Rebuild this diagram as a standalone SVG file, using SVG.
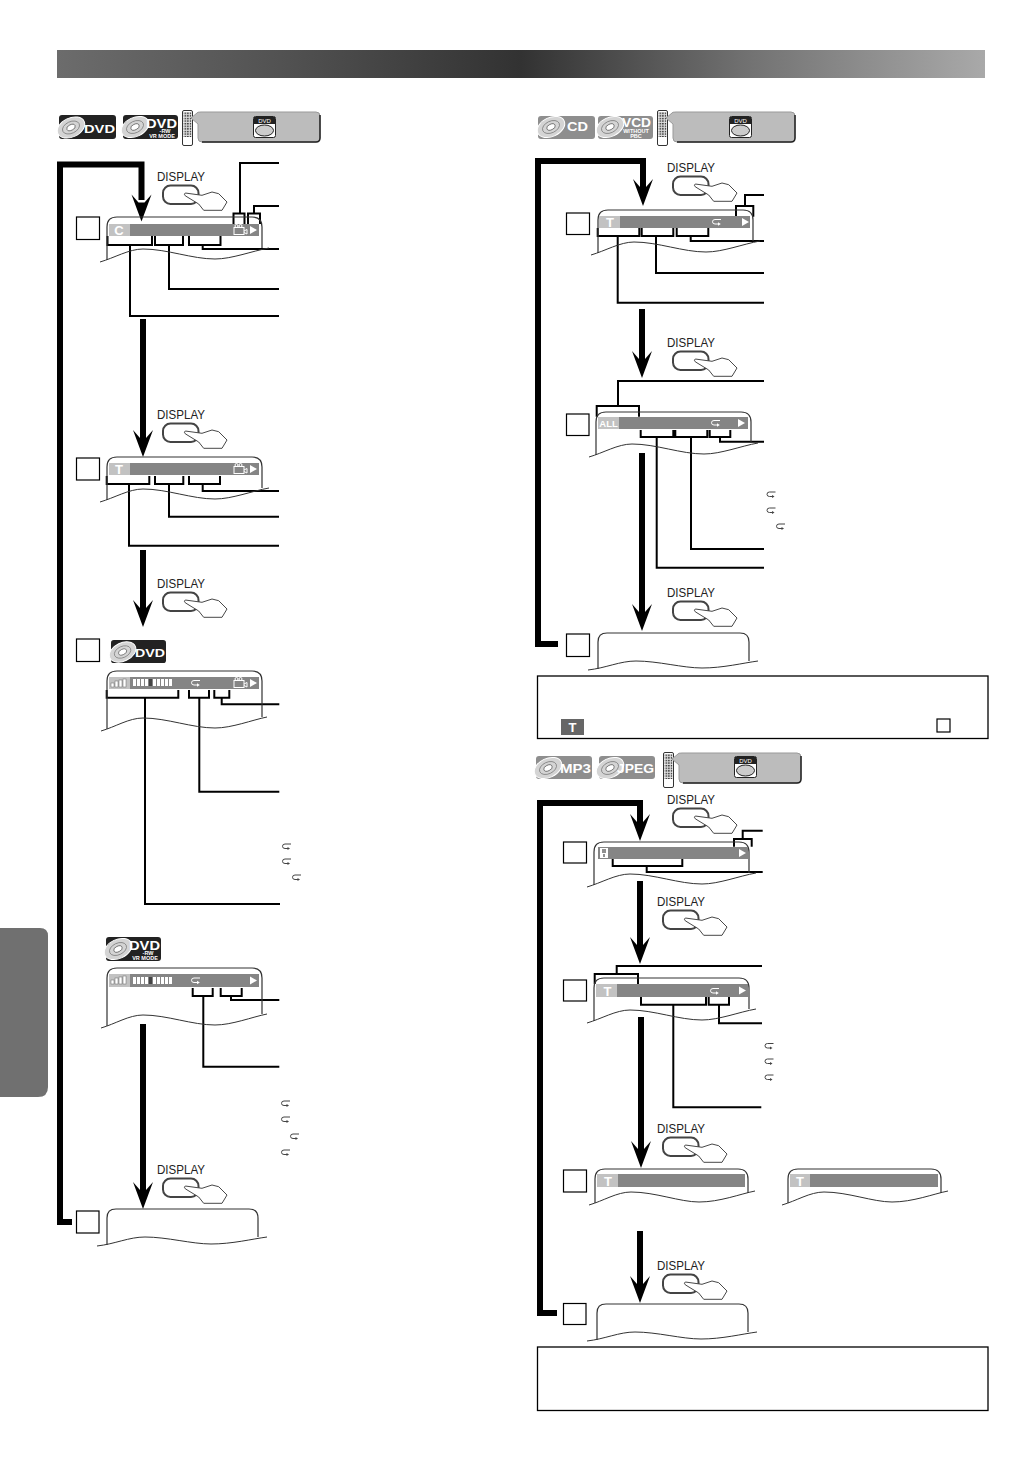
<svg xmlns="http://www.w3.org/2000/svg" xmlns:xlink="http://www.w3.org/1999/xlink" width="1032" height="1458" viewBox="0 0 1032 1458">
<style>
text{font-family:"Liberation Sans",Arial,sans-serif}
.o{fill:none;stroke:#333;stroke-width:1.2}
.b{fill:#858585}
.l{fill:#c2c2c2}
.i{font-weight:bold;fill:#fff;text-anchor:middle}
.step{fill:#fff;stroke:#000;stroke-width:1.2}
.th{fill:none;stroke:#000;stroke-width:6;stroke-miterlimit:10}
.c{fill:none;stroke:#000;stroke-width:2;stroke-linejoin:miter}
.d{fill:#222;font-size:13.5px}
.lg{font-weight:bold;fill:#fff}
.note{fill:#fff;stroke:#000;stroke-width:1.3}
</style>
<defs>
<linearGradient id="hdr" x1="0" x2="1" y1="0" y2="0"><stop offset="0" stop-color="#6c6c6c"/><stop offset=".25" stop-color="#515151"/><stop offset=".5" stop-color="#323232"/><stop offset=".75" stop-color="#737373"/><stop offset="1" stop-color="#a9a9a9"/></linearGradient>
<pattern id="keys" width="2.6" height="2.6" patternUnits="userSpaceOnUse"><rect width="2.6" height="2.6" fill="#ddd"/><rect width="1.4" height="1.4" fill="#222"/></pattern>
<path id="head" d="M-10 -27L0 0L10 -27L3 -19H-3Z" fill="#000"/>
<g id="btn"><text class="d" x="0" y="0" textLength="48" lengthAdjust="spacingAndGlyphs">DISPLAY</text><rect x="6" y="4.500" width="35.500" height="18.500" rx="7.500" fill="#fff" stroke="#444" stroke-width="2"/><path d="M28.300 12L45 14.300L55 11L61.700 12.700L70 21L65 29.300H46.700L41.700 23L28.300 14.800Q26.500 13 28.300 12Z" fill="#fff" stroke="#333" stroke-width=".9"/></g>
<g id="scrA" class="o"><path d="M0 43V10Q0 0 10 0H145Q155 0 155 10V31"/><path d="M-7 45C7 41 22 32 36 32C60 32 85 42 108 42C125 42 145 34 162 31" stroke-width="1"/></g>
<g id="scrB" class="o"><path d="M0 58V10Q0 0 10 0H145Q155 0 155 10V46"/><path d="M-6 60C8 56 22 47 36 47C60 47 85 57 108 57C125 57 145 49 160 46" stroke-width="1"/></g>
<g id="scrC" class="o"><path d="M0 36V9Q0 0 9 0H142Q151 0 151 9V28"/><path d="M-10 37C8 35 22 28 38 28C60 28 85 35 104 35C125 35 145 30 160 28" stroke-width="1"/></g>
<g id="scrD" class="o"><path d="M0 34V10Q0 0 10 0H143Q153 0 153 10V24"/><path d="M-6 36C8 32 22 23 36 23C60 23 85 33 104 33C125 33 145 25 160 22" stroke-width="1"/></g>
<path id="play" d="M0 -4L7 0L0 4Z" fill="#fff"/>
<g id="film" fill="none" stroke="#fff" stroke-width="1"><rect x="-7" y="-2.500" width="10" height="7"/><circle cx="-4.500" cy="-4" r="1.500"/><circle cx="-.5" cy="-4" r="1.500"/><path d="M3 1L6 -.5V4L3 2.500"/></g>
<g id="rep" fill="none" stroke-width="1"><path d="M4 -2.500H-2Q-4.500 -2.500 -4.500 -.2Q-4.500 2 -2 2H1.500"/><path d="M1 .3L3.800 2L1 3.700Z" fill="#fff" stroke="none"/></g>
<g id="repS" fill="none" stroke="#444" stroke-width="1"><path d="M4 -3H-2Q-4.500 -3 -4.500 -.7Q-4.500 1.500 -2 1.500H1"/><path d="M.5 0L3 1.500L.5 3Z" fill="#444" stroke="none"/></g>
<g id="sig"><rect x="-9" y="-1" width="3" height="4" fill="#fff" stroke="#666" stroke-width=".5"/><rect x="-5" y="-3" width="3" height="6" fill="#fff" stroke="#666" stroke-width=".5"/><rect x="-1" y="-4" width="3" height="7" fill="#fff" stroke="#666" stroke-width=".5"/><rect x="3" y="-5" width="3" height="8" fill="#fff" stroke="#666" stroke-width=".5"/></g>
<g id="dots" fill="#fff"><rect x="0" width="3" height="7"/><rect x="4" width="3" height="7"/><rect x="8" width="3" height="7"/><rect x="12" width="3" height="7"/><rect x="16" width="3" height="7" fill="#444"/><rect x="20" width="3" height="7"/><rect x="24" width="3" height="7"/><rect x="28" width="3" height="7"/><rect x="32" width="3" height="7"/><rect x="36" width="3" height="7"/></g>
<g id="disc"><ellipse rx="14.500" ry="9.500" transform="rotate(-25)" fill="#d4d4d4" stroke="#fff" stroke-width="1"/><ellipse rx="9" ry="5.800" transform="rotate(-25)" fill="none" stroke="#777" stroke-width=".7"/><ellipse rx="4.500" ry="2.800" transform="rotate(-25)" fill="#fff" stroke="#555" stroke-width=".7"/></g>
<g id="remote"><rect x=".5" y=".5" width="10" height="35" rx="1.500" fill="#fff" stroke="#333" stroke-width="1"/><rect x="1.500" y="2" width="8" height="25" fill="url(#keys)"/></g>
<g id="panel"><path d="M-6 6L0 1Q0 0 4 0H119Q123 0 123 4V26Q123 30 119 30H5Q1 30 1 26V12Z" fill="#bcbcbc" stroke="#999" stroke-width="1"/><path d="M123 3V26Q123 30 119 30H5" fill="none" stroke="#222" stroke-width="1.500"/></g>
<g id="dvdb"><rect x=".5" y=".5" width="22" height="21" rx="2" fill="#fff" stroke="#222" stroke-width="1"/><path d="M1 1H22V8H1Z" fill="#222"/><text x="11.500" y="6.800" font-size="6" fill="#fff" text-anchor="middle">DVD</text><ellipse cx="11.500" cy="14.500" rx="9" ry="5.500" fill="#ccc" stroke="#222" stroke-width="1"/></g>
<g id="logoDVD"><rect width="57" height="24" rx="3" fill="#222"/><use href="#disc" x="12" y="12.500"/><text class="lg" x="25" y="18" font-size="11" textLength="31" lengthAdjust="spacingAndGlyphs">DVD</text></g>
<g id="logoVR"><rect width="55" height="24" rx="3" fill="#222"/><use href="#disc" x="12" y="12"/><text class="lg" x="23" y="13" font-size="13" textLength="31" lengthAdjust="spacingAndGlyphs">DVD</text><text class="lg" x="42" y="18" font-size="5.500" text-anchor="middle">-RW</text><text class="lg" x="39" y="23" font-size="5.500" text-anchor="middle">VR MODE</text></g>
</defs>

<g id="page-header"><rect x="57" y="50" width="928" height="28" fill="url(#hdr)"/></g>
<g id="side-tab"><path d="M0 928H40Q48 928 48 936V1087Q48 1097 38 1097H0Z" fill="#707070"/></g>

<g id="source-left">
<use href="#logoDVD" x="59" y="115"/><use href="#logoVR" x="123" y="115"/><use href="#remote" x="182" y="110"/><use href="#panel" x="197" y="112"/><use href="#dvdb" x="253" y="116"/>
</g>
<g id="source-cd">
<g id="logo-cd"><rect x="538" y="116" width="57" height="23" rx="3" fill="#8e8e8e"/><use href="#disc" x="551" y="127"/><text class="lg" x="567" y="131" font-size="12" textLength="21" lengthAdjust="spacingAndGlyphs">CD</text></g>
<g id="logo-vcd"><rect x="598" y="116" width="55" height="23" rx="3" fill="#8e8e8e"/><use href="#disc" x="610" y="127"/><text class="lg" x="622" y="127" font-size="12" textLength="29" lengthAdjust="spacingAndGlyphs">VCD</text><text class="lg" x="636" y="133" font-size="5.500" text-anchor="middle">WITHOUT</text><text class="lg" x="636" y="138" font-size="5.500" text-anchor="middle">PBC</text></g>
<use href="#remote" x="657" y="110"/><use href="#panel" x="672" y="112"/><use href="#dvdb" x="729" y="116"/>
</g>
<g id="source-mp3">
<g id="logo-mp3"><rect x="536" y="756" width="56" height="23" rx="3" fill="#8e8e8e"/><use href="#disc" x="548" y="768"/><text class="lg" x="560" y="773" font-size="12.500" textLength="31" lengthAdjust="spacingAndGlyphs">MP3</text></g>
<g id="logo-jpeg"><rect x="599" y="756" width="56" height="23" rx="3" fill="#8e8e8e"/><use href="#disc" x="610" y="768"/><text class="lg" x="617" y="773" font-size="12.500" textLength="37" lengthAdjust="spacingAndGlyphs">JPEG</text></g>
<use href="#remote" x="663" y="752"/><use href="#panel" x="678" y="753"/><use href="#dvdb" x="734" y="756"/>
</g>

<g id="connectors">
<path class="th" d="M72 1222H60V164.500H141.500V200"/>
<use href="#head" x="141.500" y="221.500"/>
<path class="th" d="M143 319V440M143 550V610M143 1024V1190"/>
<use href="#head" x="143" y="457"/><use href="#head" x="143" y="627"/><use href="#head" x="143" y="1209"/>
<path class="th" d="M558 644H538V161H643V190"/>
<use href="#head" x="643" y="206"/>
<path class="th" d="M642 309V360M642 453V612"/>
<use href="#head" x="642" y="378"/><use href="#head" x="642" y="631"/>
<path class="th" d="M557 1313H540V803H640V825"/>
<use href="#head" x="640" y="841"/>
<path class="th" d="M640 881V945M641 1017V1150M640 1231V1285"/>
<use href="#head" x="640" y="964"/><use href="#head" x="641" y="1168"/><use href="#head" x="640" y="1303"/>

<path class="c" d="M279 163H240V213.500M233.500 224V213.500H244.500V224M279 206H254V213.500M248 224V213.500H260V224"/>
<path class="c" d="M107.500 236V245H152V236M130 245V316H279M155 236V245H183V236M169 245V289H279M189 236V245H220.500V236M202.700 245V249H279"/>
<path class="c" d="M106.700 476V484H149.300V476M129 484V545.700H279M155 476V484H183.300V476M169 484V516.700H279M189 476V484H220V476M202.700 484V491H279"/>
<path class="c" d="M106.700 690V697.700H178.300V690M145 697.700V904H280M189 690V697.700H209V690M199.300 697.700V791.700H279.300M214.300 690V697.700H229.300V690M221.700 697.700V704.300H279.300"/>
<path class="c" d="M192.700 988V996H212.700V988M203.300 996V1066.700H279.300M220.700 988V996H241.700V988M231 996V1000H279.300"/>
<path class="c" d="M736 216.700V206H753.300V216.700M745 206V195H764M597.700 228V236H639.300V228M617.700 236V302.700H764M641.700 228V236H673.300V228M656 236V273H764M676.700 228V236H708.300V228M690.700 236V241H764"/>
<path class="c" d="M618 406V381H764M596.700 416.700V406H639V416.700M640.700 430V437H673.300V430M656.700 437V567.700H764M675.300 430V437H707.300V430M691 437V549H764M709.700 430V437H730.300V430M720 437V441.700H764"/>
<path class="c" d="M734 846.700V839H751.700V846.700M742.700 839V830.700H762.700M612.700 859V866H682.300V859M646.700 866V872H762.700"/>
<path class="c" d="M616.700 974V966H762M594.700 984V974H638V984M641 997V1004.700H706V997M673.300 1004.700V1107.300H761.300M708.700 997V1004.700H729V997M719 1004.700V1023.300H762"/>
</g>

<g id="press-buttons">
<use href="#btn" x="157" y="181"/><use href="#btn" x="157" y="419"/><use href="#btn" x="157" y="588"/><use href="#btn" x="157" y="1174"/>
<use href="#btn" x="667" y="172"/><use href="#btn" x="667" y="347"/><use href="#btn" x="667" y="597"/><use href="#btn" x="667" y="804"/>
<use href="#btn" x="657" y="906"/><use href="#btn" x="657" y="1133"/><use href="#btn" x="657" y="1270"/>
</g>

<g id="step-left-1"><rect class="step" x="76.500" y="217" width="23" height="22.500"/>
<use href="#scrA" x="107" y="217"/><rect class="b" x="109" y="224" width="150" height="12"/><rect class="l" x="109" y="224" width="21" height="12"/><text class="i" x="119" y="235" font-size="13">C</text><use href="#film" x="241" y="230"/><use href="#play" x="250" y="230"/></g>
<g id="step-left-2"><rect class="step" x="76.500" y="458" width="23" height="22"/>
<use href="#scrA" x="107" y="457"/><rect class="b" x="109" y="463" width="150" height="12"/><rect class="l" x="109" y="463" width="21" height="12"/><text class="i" x="119" y="474" font-size="13">T</text><use href="#film" x="241" y="469"/><use href="#play" x="250" y="469"/></g>
<g id="step-left-3"><rect class="step" x="76.500" y="639" width="23" height="22.500"/><g transform="translate(111,640) scale(.965,.96)"><use href="#logoDVD"/></g>
<use href="#scrB" x="107" y="671"/><rect class="b" x="109" y="677" width="150" height="12"/><rect class="l" x="109" y="677" width="21" height="12"/><use href="#sig" x="120" y="684"/><use href="#dots" x="133" y="679"/><use href="#rep" x="196" y="683" stroke="#fff"/><use href="#film" x="241" y="683"/><use href="#play" x="250" y="683"/></g>
<g id="step-left-3b"><use href="#logoVR" x="106" y="937"/>
<use href="#scrB" x="107" y="968"/><rect class="b" x="109" y="974" width="150" height="13"/><rect class="l" x="109" y="974" width="21" height="13"/><use href="#sig" x="120" y="981"/><use href="#dots" x="133" y="977"/><use href="#rep" x="196" y="980.500" stroke="#fff"/><use href="#play" x="250" y="980.500"/></g>
<g id="step-left-4"><rect class="step" x="76.500" y="1211" width="22.500" height="22"/><use href="#scrC" x="107" y="1209"/></g>

<g id="step-cd-1"><rect class="step" x="566.500" y="213" width="23" height="21.500"/>
<use href="#scrA" x="598" y="210"/><rect class="b" x="599" y="216" width="151" height="12"/><rect class="l" x="599" y="216" width="21" height="12"/><text class="i" x="610" y="227" font-size="13">T</text><use href="#rep" x="717" y="222" stroke="#fff"/><use href="#play" x="742" y="222"/></g>
<g id="step-cd-2"><rect class="step" x="566.500" y="414" width="22.500" height="21.500"/>
<use href="#scrA" x="596" y="412"/><rect class="b" x="598" y="417" width="150" height="12"/><rect class="l" x="598" y="417" width="21" height="12"/><text class="i" x="608.500" y="427" font-size="9.500">ALL</text><use href="#rep" x="716" y="423" stroke="#fff"/><use href="#play" x="738" y="423"/></g>
<g id="step-cd-3"><rect class="step" x="566.500" y="634" width="23" height="22.500"/><use href="#scrC" x="598" y="633"/></g>
<g id="note-cd"><rect class="note" x="537.500" y="676" width="450.500" height="62.500"/><rect x="561" y="719" width="23" height="16" fill="#666"/><text class="i" x="572.500" y="732" font-size="13">T</text><rect class="step" x="937" y="719" width="13" height="13"/></g>

<g id="step-mp3-1"><rect class="step" x="563.500" y="842" width="23" height="21"/>
<use href="#scrA" x="594" y="842"/><rect class="b" x="598" y="847" width="150" height="12"/><rect x="600" y="848" width="8" height="10" fill="#fff"/><path d="M602 850H606M602 852H606M604 854V857" stroke="#222" stroke-width="1"/><use href="#play" x="739" y="853"/></g>
<g id="step-mp3-2"><rect class="step" x="563.500" y="980" width="23" height="21"/>
<use href="#scrA" x="594" y="978"/><rect class="b" x="596" y="984" width="152" height="13"/><rect class="l" x="596" y="984" width="21" height="13"/><text class="i" x="607.500" y="995.500" font-size="13">T</text><use href="#rep" x="715" y="991" stroke="#fff"/><use href="#play" x="739" y="990.500"/></g>
<g id="step-mp3-3"><rect class="step" x="563.500" y="1170" width="23" height="22"/>
<use href="#scrD" x="595" y="1169"/><rect class="b" x="597" y="1174" width="148" height="13"/><rect class="l" x="597" y="1174" width="21" height="13"/><text class="i" x="608" y="1185.500" font-size="13">T</text></g>
<g id="step-mp3-3b"><use href="#scrD" x="788" y="1169"/><rect class="b" x="790" y="1174" width="148" height="13"/><rect class="l" x="790" y="1174" width="20" height="13"/><text class="i" x="800" y="1185.500" font-size="13">T</text></g>
<g id="step-mp3-4"><rect class="step" x="563.500" y="1303.500" width="22.500" height="21"/><use href="#scrC" x="597" y="1304"/></g>
<g id="note-mp3"><rect class="note" x="537.500" y="1347" width="450.500" height="63.500"/></g>

<g id="repeat-marks">
<use href="#repS" x="287" y="847"/><use href="#repS" x="287" y="862"/><use href="#repS" x="297" y="878"/>
<use href="#repS" x="286" y="1104"/><use href="#repS" x="286" y="1120"/><use href="#repS" x="295" y="1137"/><use href="#repS" x="286" y="1153"/>
<use href="#repS" x="771.500" y="495"/><use href="#repS" x="771.500" y="511"/><use href="#repS" x="781" y="527"/>
<use href="#repS" x="769.500" y="1046.500"/><use href="#repS" x="769.500" y="1062"/><use href="#repS" x="769.500" y="1078"/>
</g>
</svg>
